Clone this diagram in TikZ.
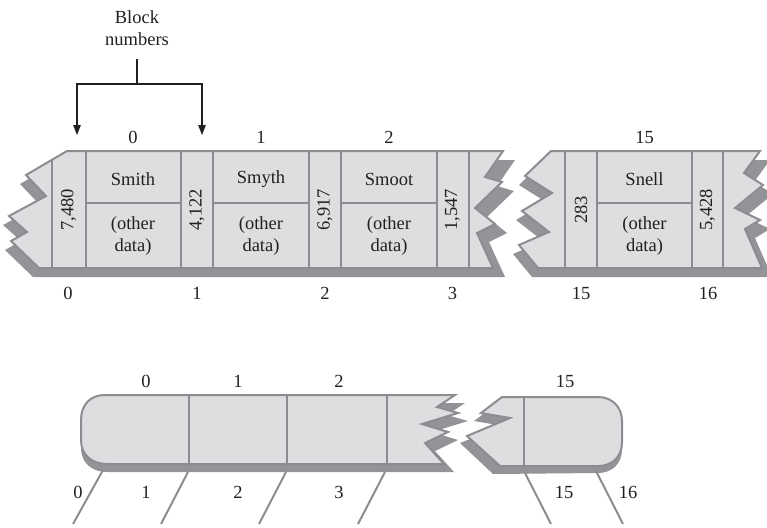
\documentclass[tikz,border=0pt]{standalone}
\usepackage{fontspec}
\setmainfont{Liberation Serif}
\usetikzlibrary{arrows.meta}
\definecolor{lite}{RGB}{221,222,224}
\definecolor{edgegray}{RGB}{140,141,144}
\definecolor{shadowgray}{RGB}{147,148,151}
\definecolor{ink}{RGB}{35,31,32}
\tikzset{
  lbl/.style={font=\fontsize{18.5}{22}\selectfont, text=ink, inner sep=0pt},
  rot/.style={lbl, rotate=90},
  sep/.style={draw=edgegray, line width=2pt},
  outline/.style={draw=edgegray, line width=2pt, line join=miter},
  ptr/.style={draw=edgegray, line width=2pt},
  pA/.style={insert path={(67,151) -- (503,151) -- (485,177) -- (502,182) -- (475,208) -- (495,224) -- (477,233) -- (493,268) -- (39,268) -- (11,241) -- (27,232) -- (9,216) -- (46,196) -- (26,175) -- cycle}},
  sA/.style={insert path={(61,160) -- (515,160) -- (497,186) -- (514,191) -- (487,217) -- (507,233) -- (489,242) -- (505,277) -- (33,277) -- (5,250) -- (21,241) -- (3,225) -- (40,205) -- (20,184) -- cycle}},
  pB/.style={insert path={(551,151) -- (760,151) -- (744,173) -- (763,185) -- (735,208) -- (760,220) -- (745,229) -- (762,268) -- (538,268) -- (519,245) -- (549,232) -- (522,211) -- (552,193) -- (525,176) -- cycle}},
  sB/.style={insert path={(545,160) -- (770,160) -- (754,182) -- (773,194) -- (745,217) -- (770,229) -- (755,238) -- (772,277) -- (532,277) -- (513,254) -- (543,241) -- (516,220) -- (546,202) -- (519,185) -- cycle}},
  pC/.style={insert path={(105,395) -- (455,395) -- (437,407) -- (458,413) -- (422,424) -- (448,432) -- (425,443) -- (444,464) -- (107,464) .. controls (92,464) and (81,455) .. (81,440) -- (81,420) .. controls (81,405) and (90,395) .. (105,395) -- cycle}},
  sC/.style={insert path={(105,403) -- (465,403) -- (447,415) -- (468,421) -- (432,432) -- (458,440) -- (435,451) -- (454,472) -- (107,472) .. controls (92,472) and (81,463) .. (81,448) -- (81,428) .. controls (81,413) and (90,403) .. (105,403) -- cycle}},
  pD/.style={insert path={(502,397) -- (598,397) .. controls (612,397) and (622,407) .. (622,421) -- (622,442) .. controls (622,457) and (612,466) .. (598,466) -- (500,466) -- (467,436) -- (510,418) -- (481,413) -- cycle}},
  sD/.style={insert path={(495,405) -- (598,405) .. controls (612,405) and (622,415) .. (622,429) -- (622,449) .. controls (622,464) and (612,473) .. (598,473) -- (493,474) -- (460,443) -- (503,426) -- (474,421) -- cycle}},
}
\begin{document}
\begin{tikzpicture}[x=1pt,y=-1pt]
\useasboundingbox (0,0) rectangle (767,527);

% ---------- top strip ----------
\fill[shadowgray, sA];
\fill[shadowgray, sB];
\fill[lite, pA];
\fill[lite, pB];
\begin{scope}
  \clip[pA];
  \foreach \x in {51.7,85.7,181,213.3,309,340.7,437,468.5}
    \draw[sep] (\x,140) -- (\x,280);
  \draw[sep] (85.7,203.3) -- (181,203.3);
  \draw[sep] (213.3,203.3) -- (309,203.3);
  \draw[sep] (340.7,203.3) -- (437,203.3);
\end{scope}
\begin{scope}
  \clip[pB];
  \foreach \x in {565,597,692,723}
    \draw[sep] (\x,140) -- (\x,280);
  \draw[sep] (597,203.3) -- (692,203.3);
\end{scope}
\path[outline, pA];
\path[outline, pB];

% texts inside top strip
\node[rot] (k0) at (68.7,210) {7,480};
\node[rot] (k1) at (197,210) {4,122};
\node[rot] (k2) at (325,210) {6,917};
\node[rot] (k3) at (452.5,210) {1,547};
\node[rot] (k15) at (581,210) {283};
\node[rot] (k16) at (707.5,210) {5,428};
\node[lbl] (n0) at (133,179) {Smith};
\node[lbl] (n1) at (261,179) {Smyth};
\node[lbl] (n2) at (389,179) {Smoot};
\node[lbl] (n15) at (644.5,179) {Snell};
\node[lbl, align=center] (d0) at (133,236) {(other\\data)};
\node[lbl, align=center] (d1) at (261,236) {(other\\data)};
\node[lbl, align=center] (d2) at (389,236) {(other\\data)};
\node[lbl, align=center] (d15) at (644.5,236) {(other\\data)};

% block numbers above
\node[lbl] (t0) at (133,137) {0};
\node[lbl] (t1) at (261,137) {1};
\node[lbl] (t2) at (389,137) {2};
\node[lbl] (t15) at (644.5,137) {15};
% pointer numbers below
\node[lbl] (b0) at (68,293) {0};
\node[lbl] (b1) at (197,293) {1};
\node[lbl] (b2) at (325,293) {2};
\node[lbl] (b3) at (452.5,293) {3};
\node[lbl] (b15) at (581,293) {15};
\node[lbl] (b16) at (708,293) {16};

% "Block numbers" callout
\node[lbl, align=center] (bn) at (137,28) {Block\\numbers};
\coordinate (bnj) at (137,84);
\coordinate (bnl) at (77,84);
\coordinate (bnr) at (202,84);
\coordinate (al) at (77,135);
\coordinate (ar) at (202,135);
\draw[ink, line width=1.1pt] (137,59) -- (bnj);
\draw[ink, line width=1.1pt, -{Triangle[width=7.5pt,length=10pt]}] (bnj) -- (bnl) -- (al);
\draw[ink, line width=1.1pt, -{Triangle[width=7.5pt,length=10pt]}] (bnj) -- (bnr) -- (ar);

% ---------- bottom strip ----------
\fill[shadowgray, sC];
\fill[shadowgray, sD];
\fill[lite, pC];
\fill[lite, pD];
\begin{scope}
  \clip[pC];
  \foreach \x in {189,286.7,387.3}
    \draw[sep] (\x,385) -- (\x,475);
\end{scope}
\begin{scope}
  \clip[pD];
  \draw[sep] (524,385) -- (524,475);
\end{scope}
\path[outline, pC];
\path[outline, pD];

% pointer lines
\coordinate (p0a) at (103,470);  \coordinate (p0b) at (73,524);
\coordinate (p1a) at (188,472);  \coordinate (p1b) at (161,524);
\coordinate (p2a) at (286,472);  \coordinate (p2b) at (259,524);
\coordinate (p3a) at (385,472);  \coordinate (p3b) at (358,524);
\coordinate (p15a) at (525,473); \coordinate (p15b) at (551,524);
\coordinate (p16a) at (596,471); \coordinate (p16b) at (623,524);
\draw[ptr] (p0a) -- (p0b);
\draw[ptr] (p1a) -- (p1b);
\draw[ptr] (p2a) -- (p2b);
\draw[ptr] (p3a) -- (p3b);
\draw[ptr] (p15a) -- (p15b);
\draw[ptr] (p16a) -- (p16b);

% labels of bottom strip
\node[lbl] (u0) at (146,381) {0};
\node[lbl] (u1) at (238,381) {1};
\node[lbl] (u2) at (339,381) {2};
\node[lbl] (u15) at (565,381) {15};
\node[lbl] (v0) at (78,492) {0};
\node[lbl] (v1) at (146,492) {1};
\node[lbl] (v2) at (238,492) {2};
\node[lbl] (v3) at (339,492) {3};
\node[lbl] (v15) at (564,492) {15};
\node[lbl] (v16) at (628,492) {16};
\end{tikzpicture}
\end{document}
